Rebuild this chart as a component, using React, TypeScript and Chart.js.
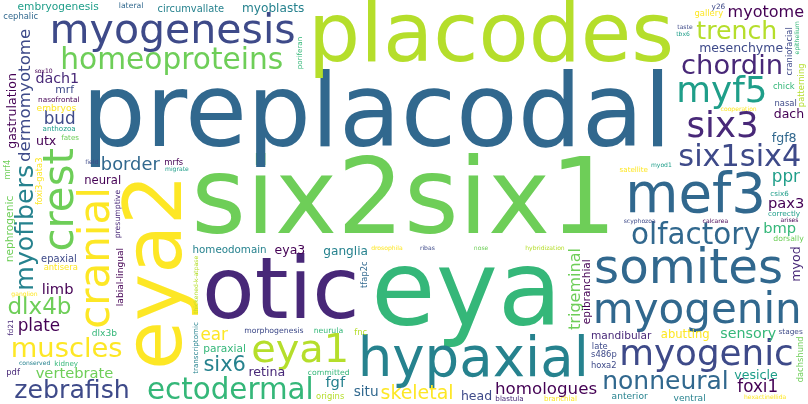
import { useEffect, useRef } from "react"
import { Chart, registerables } from "chart.js"

Chart.register(...registerables)

// word, weight (relative frequency)
const words = [
  "six2six1", "preplacodal", "eya", "placodes", "otic", "eya2", "hypaxial", "mef3",
  "myogenesis", "somites", "homeoproteins", "myogenin", "myogenic", "cranial", "crest",
  "eya1", "six1six4", "six3", "myf5", "ectodermal", "nonneural", "olfactory", "chordin",
  "muscles", "trench", "myofibers", "zebrafish", "dermomyotome", "homologues", "dlx4b",
  "border", "six6", "skeletal", "myotome", "trigeminal", "sensory", "dach1", "homeodomain",
  "ganglia", "ear", "myoblasts", "bud", "plate", "ppr", "foxi1", "vertebrate", "pax3",
  "fgf", "eya3", "bmp", "paraxial", "mandibular", "limb", "head", "dach", "mesenchyme",
  "embryogenesis", "circumvallate", "neural", "abutting", "branchial", "situ", "epaxial",
  "anterior", "committed", "neurula", "dorsally", "morphogenesis", "vesicle", "retina",
  "ventral", "embryos", "nephrogenic", "mrf", "mesoderm", "myod", "gastrulation", "lateral",
  "evolutionary", "utx", "labial-lingual", "fgf8", "dlx3b", "periocular", "epibranchial",
  "gastrula", "presumptive", "craniofacial", "hexactinellida", "satellite", "calcarea",
  "specification", "multimerized", "invagination", "mrfs", "chick", "field", "hybridization",
  "anomaly", "conserved", "patterning", "ribas", "anthozoa", "contraction", "drosophila",
  "antisera", "papillae", "statocyst", "haliclona", "ctenophore", "gallery", "dachshund",
  "network", "tfap2c", "tbx6", "movements", "synergistically", "hoxa2", "scyphozoa", "sox10",
  "undergo", "dusp19", "fd21", "blastula", "mrf4", "coproduction", "cephalic", "dd1",
  "origins", "endowed", "nose", "cooperation", "dystrophic", "csix6", "nonfunctionalization",
  "somitogenesis", "nasal", "creatine", "identity", "kidney", "two-step", "s486p", "fnc",
  "ganglion", "myod1", "ephyra", "precursors", "arches/pouches", "cheyette", "late",
  "tfap2a", "aurita", "echiurid", "nup155", "pdf", "rhopalia", "foxi3-gata3", "arises",
  "thickened-k-atpase", "transcriptomic", "poriferan", "hydrozoa", "organogenesis",
  "primordia", "taste", "fates", "dusp23", "spatiotemporal", "migrate", "mesonephros",
  "y26", "posterior", "aurelia", "nasofrontal", "epithelium", "stages", "correctly",
  "protrusion", "adjacent", "initially", "lophotrochozoa", "developmental", "demospongia",
]
const weights = [
  100, 96, 100, 92, 82, 76, 52, 52,
  46, 46, 46, 40, 40, 40, 40,
  38, 34, 34, 34, 28, 28, 28, 26,
  26, 24, 24, 24, 22, 22, 22,
  20, 20, 18, 18, 18, 16, 16, 16,
  16, 16, 16, 16, 16, 16, 16, 14, 14,
  14, 14, 14, 14, 14, 14, 14, 14, 14,
  14, 13, 13, 13, 13, 13, 13,
  12, 12, 12, 12, 12, 12, 12,
  12, 12, 12, 12, 12, 12, 12, 12,
  12, 12, 12, 12, 12, 10, 10,
  12, 12, 8, 8, 8, 8,
  7, 7, 8, 8, 8, 8, 8,
  8, 8, 8, 8, 8, 8, 8,
  8, 8, 8, 8, 8, 8, 8,
  8, 8, 8, 8, 8, 8, 8, 8,
  8, 8, 8, 8, 8, 8, 8, 8,
  8, 8, 8, 8, 8, 8, 8,
  8, 8, 8, 8, 8, 8, 8, 8,
  8, 8, 8, 8, 8, 8, 8,
  8, 8, 8, 8, 8, 8, 8, 8,
  8, 8, 8, 8, 8,
  8, 8, 8, 8, 8, 8, 8,
  7, 7, 7, 7, 7, 7, 7,
  7, 7, 7, 7, 7, 7,
]
const verticalWords = [
  "eya2", "cranial", "crest", "dermomyotome", "myofibers", "trigeminal", "gastrulation",
  "presumptive", "nephrogenic", "labial-lingual", "thickened-k-atpase", "transcriptomic",
  "lophotrochozoa", "developmental", "epibranchial", "myod", "poriferan", "patterning",
  "craniofacial", "dachshund", "fd21", "mrf4", "foxi3-gata3", "tfap2c", "epithelium",
]

const viridis = ["#440154", "#482878", "#3e4a89", "#31688e", "#26828e", "#1f9e89", "#35b779", "#6ece58", "#b5de2b", "#fde725"]

function colorFor(word: string) {
  let h = 7
  for (let i = 0; i < word.length; i++) h = (h * 31 + word.charCodeAt(i)) % 1000003
  return viridis[h % viridis.length]
}

const cloudPlugin = {
  id: "cloud",
  afterDraw(chart: Chart) {
    const ctx = chart.ctx
    const { left, top, right, bottom } = chart.chartArea
    const W = right - left
    const H = bottom - top
    const scale = 1.05
    const boxes: { x: number; y: number; w: number; h: number }[] = []
    const hits = (b: { x: number; y: number; w: number; h: number }) =>
      b.x < 0 || b.y < 0 || b.x + b.w > W || b.y + b.h > H ||
      boxes.some((o) => b.x < o.x + o.w && b.x + b.w > o.x && b.y < o.y + o.h && b.y + b.h > o.y)
    ctx.save()
    ctx.textBaseline = "middle"
    ctx.textAlign = "center"
    words.forEach((word, i) => {
      const vertical = verticalWords.includes(word)
      let size = weights[i] * scale
      for (let attempt = 0; attempt < 12; attempt++) {
        ctx.font = `${size}px "DejaVu Sans"`
        const tw = ctx.measureText(word).width + 2
        const th = size * 0.82
        const bw = vertical ? th : tw
        const bh = vertical ? tw : th
        let placed = false
        const seed = (i * 137) % 360
        for (let t = 0; t < 3000; t++) {
          const a = seed + t * 0.15
          const r = t * 0.35
          const cx = W / 2 + r * 2 * Math.cos(a)
          const cy = H / 2 + r * Math.sin(a)
          const b = { x: cx - bw / 2, y: cy - bh / 2, w: bw, h: bh }
          if (!hits(b)) {
            boxes.push(b)
            ctx.fillStyle = colorFor(word)
            ctx.save()
            ctx.translate(left + cx, top + cy)
            if (vertical) ctx.rotate(-Math.PI / 2)
            ctx.fillText(word, 0, size * 0.04)
            ctx.restore()
            placed = true
            break
          }
        }
        if (placed) break
        size *= 0.85
        if (size < 6) break
      }
    })
    ctx.restore()
  },
}

export default function App() {
  const chartRef = useRef<HTMLCanvasElement>(null)
  const chartInstance = useRef<Chart | null>(null)

  useEffect(() => {
    document.body.style.margin = "0"
    if (!chartRef.current) return
    if (chartInstance.current) chartInstance.current.destroy()
    const ctx = chartRef.current.getContext("2d")
    if (!ctx) return

    chartInstance.current = new Chart(ctx, {
      type: "scatter",
      data: { datasets: [{ data: [] }] },
      options: {
        animation: false,
        responsive: true,
        maintainAspectRatio: false,
        layout: { padding: 2 },
        plugins: { legend: { display: false }, tooltip: { enabled: false } },
        scales: { x: { display: false }, y: { display: false } },
      },
      plugins: [cloudPlugin],
    })

    return () => {
      chartInstance.current?.destroy()
    }
  }, [])

  return (
    <div style={{ width: 808, height: 404, background: "#fff" }}>
      <canvas ref={chartRef} />
    </div>
  )
}
